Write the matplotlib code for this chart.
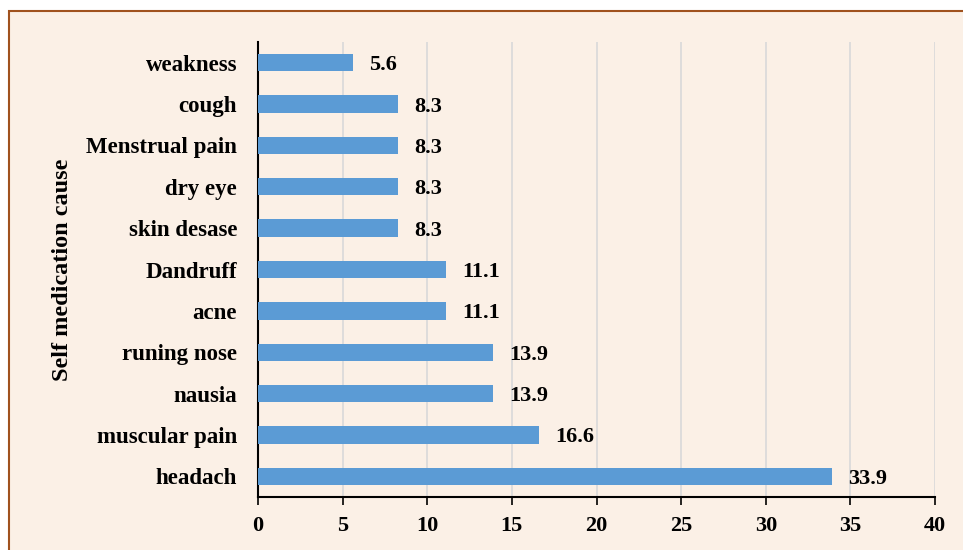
import matplotlib
import matplotlib.pyplot as plt
from matplotlib.patches import Rectangle

matplotlib.use("Agg")

causes = ["headach", "muscular pain", "nausia", "runing nose", "acne", "Dandruff",
          "skin desase", "dry eye", "Menstrual pain", "cough", "weakness"]
percent = [33.9, 16.6, 13.9, 13.9, 11.1, 11.1, 8.3, 8.3, 8.3, 8.3, 5.6]
x_ticks = [0, 5, 10, 15, 20, 25, 30, 35, 40]

BG = "#FBF0E6"
BAR = "#5B9BD5"

plt.rcParams["font.family"] = ["Liberation Serif", "DejaVu Serif"]
plt.rcParams["font.weight"] = "bold"

fig = plt.figure(figsize=(9.63, 5.5), dpi=100, facecolor="white")
# panel background with brown frame
fig.patches.append(Rectangle((9 / 963, -0.1), 1.1, 1 - 11 / 550 + 0.1,
                             transform=fig.transFigure, facecolor=BG,
                             edgecolor="#A0521E", linewidth=1.5, zorder=-5))

ax = fig.add_axes([258 / 963, 53 / 550, (935 - 258) / 963, (508 - 53) / 550])
ax.set_facecolor(BG)

y = range(len(causes))
ax.barh(y, percent, height=0.42, color=BAR, zorder=3)
for yi, v in zip(y, percent):
    ax.text(v + 0.95, yi, f"{v}", va="center_baseline", ha="left",
            fontsize=16, fontweight="bold")

ax.set_xlim(0, 40)
ax.set_ylim(-0.5, len(causes) - 0.5)
ax.set_xticks(x_ticks)
ax.set_yticks(list(y))
ax.set_yticklabels(causes, fontsize=16.5, fontweight="bold")
ax.tick_params(axis="y", length=0, pad=15)
ax.tick_params(axis="x", length=6, width=1.2, pad=8, labelsize=16)
ax.grid(axis="x", color="#D9D9D9", linewidth=1.2, zorder=0)
for s in ["top", "right"]:
    ax.spines[s].set_visible(False)
ax.spines["left"].set_linewidth(1.5)
ax.spines["bottom"].set_linewidth(1.5)
ax.set_ylabel("Self medication cause", fontsize=17.5, fontweight="bold")
ax.yaxis.set_label_coords(-0.274, 0.5)

fig.savefig("out.png", dpi=100, facecolor="white")
